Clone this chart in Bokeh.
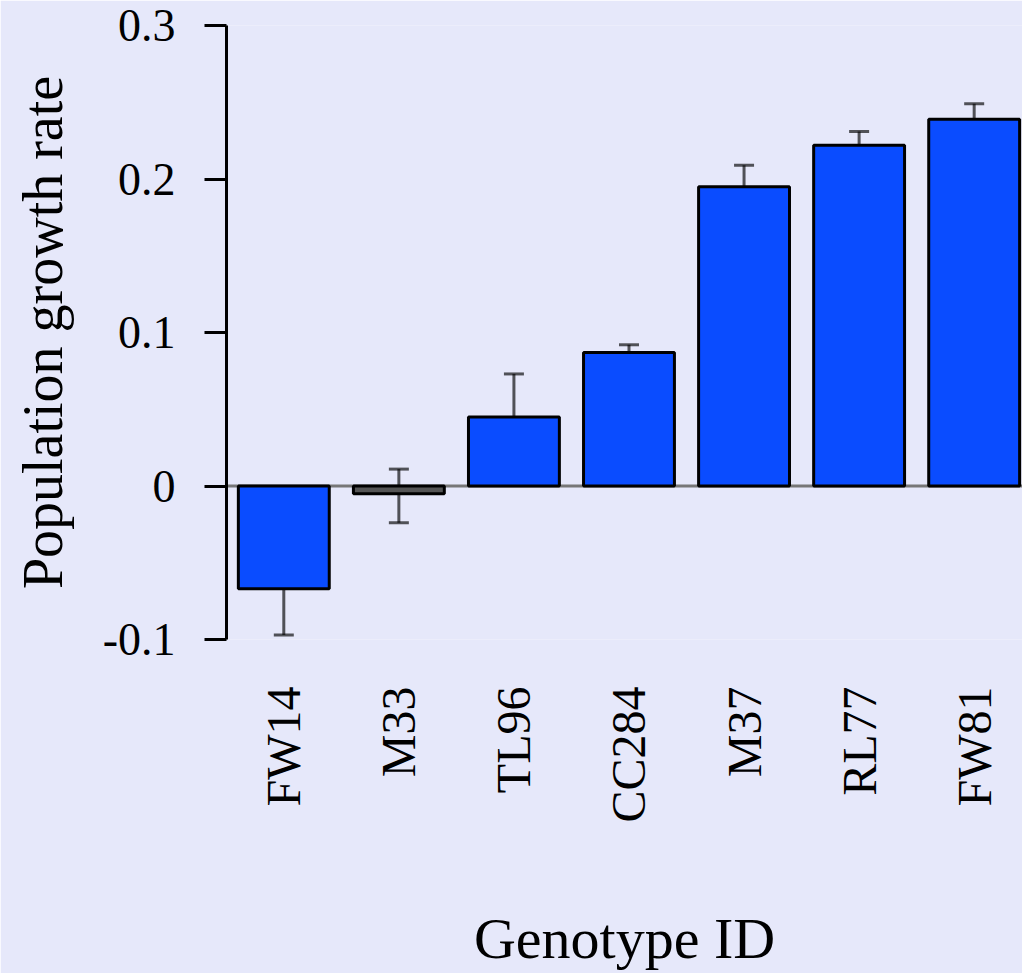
import math
from bokeh.plotting import figure
from bokeh.models import Range1d, FixedTicker, Whisker, ColumnDataSource, TeeHead, Span
from bokeh.embed import file_html
from bokeh.resources import INLINE

genotypes = ["FW14", "M33", "TL96", "CC284", "M37", "RL77", "FW81"]
growth = [-0.067, -0.005, 0.045, 0.087, 0.195, 0.222, 0.239]
err_upper = [-0.038, 0.011, 0.073, 0.092, 0.209, 0.231, 0.249]
err_lower = [-0.097, -0.024, 0.014, 0.078, 0.181, 0.211, 0.229]
bar_colors = ["#0A4CFF", "#555555", "#0A4CFF", "#0A4CFF", "#0A4CFF", "#0A4CFF", "#0A4CFF"]
y_ticks = [-0.1, 0.0, 0.1, 0.2, 0.3]
y_tick_labels = ["-0.1", "0", "0.1", "0.2", "0.3"]

BG = "#E6E8FA"
FONT = "Liberation Serif"

xs = list(range(len(genotypes)))
src = ColumnDataSource(dict(x=xs, top=growth, upper=err_upper, lower=err_lower, color=bar_colors))

p = figure(width=1022, height=973, x_range=Range1d(-0.498, 6.42), y_range=Range1d(-0.1, 0.3),
           output_backend="svg", toolbar_location=None,
           min_border_left=226, min_border_top=25, min_border_bottom=329, min_border_right=0,
           background_fill_color=BG, border_fill_color=BG, outline_line_color=None)
p.grid.visible = False

zero = Span(location=0, dimension="width", line_color="#777777", line_width=3, level="underlay")
p.add_layout(zero)

p.vbar(x="x", top="top", bottom=0, width=0.79, fill_color="color", line_color="black",
       line_width=3, source=src)

w = Whisker(base="x", upper="upper", lower="lower", source=src, line_color="black",
            line_alpha=0.65, line_width=3,
            upper_head=TeeHead(size=20, line_color="black", line_alpha=0.65, line_width=3),
            lower_head=TeeHead(size=20, line_color="black", line_alpha=0.65, line_width=3))
p.add_layout(w)

ya = p.yaxis[0]
ya.ticker = FixedTicker(ticks=y_ticks)
ya.major_label_overrides = {t: l for t, l in zip(y_ticks, y_tick_labels)}
ya.axis_line_color = "black"
ya.axis_line_width = 3
ya.major_tick_line_color = "black"
ya.major_tick_line_width = 3
ya.major_tick_out = 22
ya.major_tick_in = 0
ya.minor_tick_line_color = None
ya.major_label_standoff = 29
ya.major_label_text_font = FONT
ya.major_label_text_font_size = "46px"
ya.major_label_text_color = "black"
ya.axis_label = "Population growth rate"
ya.axis_label_text_font = FONT
ya.axis_label_text_font_style = "normal"
ya.axis_label_text_font_size = "56px"
ya.axis_label_text_color = "black"
ya.axis_label_standoff = 26

xa = p.xaxis[0]
xa.ticker = FixedTicker(ticks=xs)
xa.major_label_overrides = {i: g for i, g in zip(xs, genotypes)}
xa.major_label_orientation = math.pi / 2
xa.axis_line_color = None
xa.major_tick_line_color = None
xa.minor_tick_line_color = None
xa.major_label_standoff = 41
xa.major_label_text_font = FONT
xa.major_label_text_font_size = "48px"
xa.major_label_text_color = "black"
xa.axis_label = "Genotype ID"
xa.axis_label_text_font = FONT
xa.axis_label_text_font_style = "normal"
xa.axis_label_text_font_size = "58px"
xa.axis_label_text_color = "black"
xa.axis_label_standoff = 80

open("out.html", "w").write(file_html(p, INLINE))
